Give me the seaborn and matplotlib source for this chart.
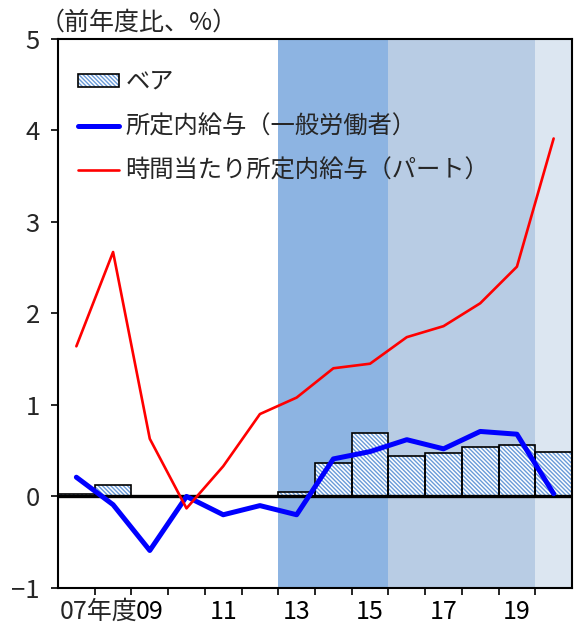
import matplotlib
matplotlib.use("Agg")
import matplotlib.pyplot as plt
import seaborn as sns
import numpy as np
import pandas as pd
from matplotlib.patches import Patch
from matplotlib.lines import Line2D
from matplotlib.legend_handler import HandlerTuple

# ---- data ----
years = [2007, 2008, 2009, 2010, 2011, 2012, 2013, 2014, 2015, 2016, 2017, 2018, 2019, 2020]
bea = [0.03, 0.12, 0.01, 0.01, 0.01, 0.01, 0.05, 0.37, 0.69, 0.44, 0.47, 0.54, 0.56, 0.49]
general_wage = [0.21, -0.09, -0.59, 0.00, -0.20, -0.10, -0.20, 0.41, 0.49, 0.62, 0.52, 0.71, 0.68, 0.03]
part_hourly = [1.64, 2.67, 0.63, -0.13, 0.33, 0.90, 1.08, 1.40, 1.45, 1.74, 1.86, 2.11, 2.51, 3.91]
tick_years = [2009, 2011, 2013, 2015, 2017, 2019]
tick_labels = ["09", "11", "13", "15", "17", "19"]
first_label = "07年度"
y_ticks = [-1, 0, 1, 2, 3, 4, 5]
y_tick_labels = ["\u22121", "0", "1", "2", "3", "4", "5"]
label_bea = "ベア"
label_general = "所定内給与（一般労働者）"
label_part = "時間当たり所定内給与（パート）"
unit_label = "（前年度比、%）"

df = pd.DataFrame({"year": years, "bea": bea, "general": general_wage, "part": part_hourly})

sns.set_theme(style="white")
plt.rcParams["font.family"] = ["Noto Sans CJK JP", "DejaVu Sans"]
plt.rcParams["hatch.linewidth"] = 1.0

HATCH = "\\" * 8
HATCH_COLOR = "#6A9BD8"

fig = plt.figure(figsize=(5.74, 6.26), dpi=100)
ax = fig.add_axes([58 / 574, 1 - 588 / 626, (572 - 58) / 574, (588 - 38.7) / 626])

# shaded periods
ax.axvspan(2012.5, 2015.5, color="#8DB4E2", lw=0, zorder=0)
ax.axvspan(2015.5, 2019.5, color="#B8CCE4", lw=0, zorder=0)
ax.axvspan(2019.5, 2020.5, color="#DCE6F1", lw=0, zorder=0)

# bars: hatched fill then black outline
sns.barplot(data=df, x="year", y="bea", native_scale=True, width=1.0,
            color="white", edgecolor=HATCH_COLOR, linewidth=0, hatch=HATCH,
            ax=ax, zorder=2, errorbar=None)
sns.barplot(data=df, x="year", y="bea", native_scale=True, width=1.0,
            fill=False, edgecolor="black", linewidth=1.2,
            ax=ax, zorder=3, errorbar=None)

ax.axhline(0, color="black", lw=2.4, zorder=4)

sns.lineplot(data=df, x="year", y="general", color="#0000FF", lw=3.6, ax=ax, zorder=5)
sns.lineplot(data=df, x="year", y="part", color="#FF0000", lw=1.9, ax=ax, zorder=6)

ax.set_xlim(2006.5, 2020.5)
ax.set_ylim(-1, 5)
ax.set_xlabel("")
ax.set_ylabel("")

num_font = ["Liberation Sans Narrow", "Noto Sans CJK JP"]
ax.set_yticks(y_ticks)
ax.set_yticklabels(y_tick_labels, fontsize=18.5, family=num_font)
ax.set_xticks(tick_years)
ax.set_xticklabels(tick_labels, fontsize=18, family=num_font)
ax.set_xticks(np.arange(2007.5, 2020.5, 1.0), minor=True)
ax.tick_params(axis="x", which="major", length=0, pad=8, colors="black")
ax.tick_params(axis="x", which="minor", length=5, width=1.2, direction="out", color="black", bottom=True)
ax.tick_params(axis="y", which="major", length=5, width=1.2, direction="out", color="black", left=True, pad=8)

# first category label, sitting left of "09"
ax.annotate(first_label, xy=(2009 - 0.34, 0), xycoords=("data", "axes fraction"),
            xytext=(0, -8), textcoords="offset points", ha="right", va="top",
            fontsize=18, family=num_font)

for s in ax.spines.values():
    s.set_color("black")
    s.set_linewidth(1.5)
    s.set_visible(True)

fig.text(40 / 574, 1 - 23 / 626, unit_label, fontsize=18, ha="left", va="center")

bea_handle = (Patch(facecolor="white", edgecolor=HATCH_COLOR, hatch=HATCH, lw=0),
              Patch(facecolor="none", edgecolor="black", lw=1.2))
handles = [
    bea_handle,
    Line2D([0], [0], color="#0000FF", lw=3.6),
    Line2D([0], [0], color="#FF0000", lw=1.9),
]
leg = ax.legend(handles, [label_bea, label_general, label_part], loc="upper left",
                bbox_to_anchor=(20 / 514, 0.945), frameon=False, fontsize=17.5,
                handlelength=1.7, handleheight=0.45, handletextpad=0.25,
                labelspacing=0.75, borderaxespad=0, borderpad=0,
                handler_map={tuple: HandlerTuple(ndivide=1)})

fig.savefig("out.png", dpi=100)
